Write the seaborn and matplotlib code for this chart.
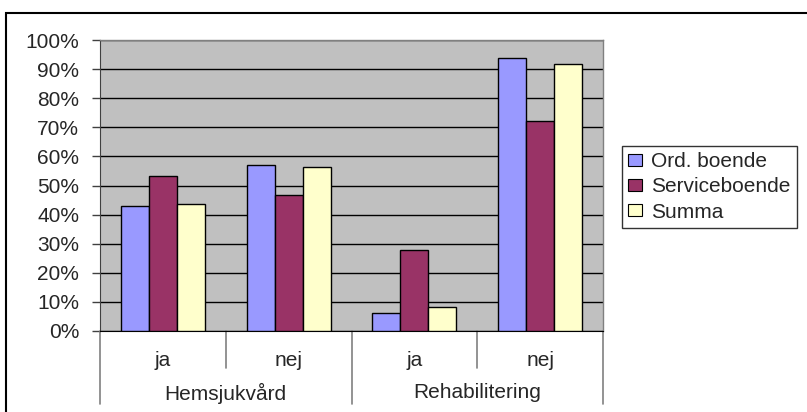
import pandas as pd
import numpy as np
import matplotlib
matplotlib.use('Agg')
import matplotlib.pyplot as plt
import seaborn as sns
from matplotlib.patches import Rectangle, Patch
from matplotlib.transforms import blended_transform_factory

# data
groups = ['Hemsjukvård', 'Rehabilitering']
answers = ['ja', 'nej']
series = ['Ord. boende', 'Serviceboende', 'Summa']
ord_boende = [42.8, 57.2, 6.2, 93.7]
serviceboende = [53.4, 46.6, 27.9, 72.0]
summa = [43.8, 56.2, 8.3, 91.6]
colors = ['#9999FF', '#993366', '#FFFFCC']

sns.set_style('white')
plt.rcParams['font.family'] = ['Liberation Sans', 'DejaVu Sans']
FS = 15


def main():
    cats = [g + ' ' + a for g in groups for a in answers]
    rows = []
    for name, vals in zip(series, [ord_boende, serviceboende, summa]):
        for c, v in zip(cats, vals):
            rows.append({'cat': c, 'series': name, 'val': v})
    df = pd.DataFrame(rows)

    fig = plt.figure(figsize=(8.07, 4.12), dpi=100)
    W, H = 807, 412
    ax = fig.add_axes([100 / W, 1 - 331 / H, 503 / W, 291 / H])
    ax.set_facecolor('#C0C0C0')

    sns.barplot(data=df, x='cat', y='val', hue='series', order=cats,
                hue_order=series, palette=colors, width=0.667,
                edgecolor='black', linewidth=1, ax=ax, legend=False,
                saturation=1, errorbar=None, zorder=3)

    ax.set_xlim(-0.5, 3.5)
    ax.set_ylim(0, 100)
    ax.set_yticks(range(0, 101, 10))
    ax.set_yticklabels([f'{t}%' for t in range(0, 101, 10)], fontsize=FS)
    ax.yaxis.grid(True, color='black', linewidth=1)
    ax.set_axisbelow(True)
    ax.set_xticks([])
    ax.set_xlabel('')
    ax.set_ylabel('')
    ax.tick_params(axis='y', length=6, width=1, color='#404040', pad=9,
                   left=True)
    for s in ['top', 'right']:
        ax.spines[s].set_color('#808080')
        ax.spines[s].set_linewidth(1)
    ax.spines['left'].set_color('#404040')
    ax.spines['bottom'].set_color('black')

    # two-level category axis
    tr = blended_transform_factory(ax.transData, ax.transAxes)
    short = -37 / 291
    long = -73 / 291
    for x, y2 in [(-0.5, long), (0.5, short), (1.5, long), (2.5, short),
                  (3.5, long)]:
        ax.plot([x, x], [0, y2], color='#808080', lw=1.2, transform=tr,
                clip_on=False)
    for i, c in enumerate(cats):
        ax.text(i, -29 / 291, c.split(' ')[1], transform=tr, ha='center',
                va='center', fontsize=FS)
    for j, g in enumerate(groups):
        ax.text(2 * j + 0.5, -62 / 291, g, transform=tr, ha='center',
                va='center', fontsize=FS)

    handles = [Patch(facecolor=c, edgecolor='black', lw=0.8) for c in colors]
    leg = fig.legend(handles, series, loc='upper left',
                     bbox_to_anchor=(622 / W, 1 - 146 / H), fontsize=FS,
                     frameon=True, fancybox=False, handlelength=0.65,
                     handleheight=0.5, handletextpad=0.45, labelspacing=0.3,
                     borderpad=0.3, borderaxespad=0)
    leg.get_frame().set_edgecolor('black')
    leg.get_frame().set_linewidth(1)

    fig.patches.append(Rectangle((6.5 / W, -0.05), 1.0, 1.05 - 13 / H,
                                 transform=fig.transFigure, fill=False,
                                 edgecolor='black', lw=1.5))

    fig.savefig('out.png', dpi=100)


if __name__ == '__main__':
    main()
